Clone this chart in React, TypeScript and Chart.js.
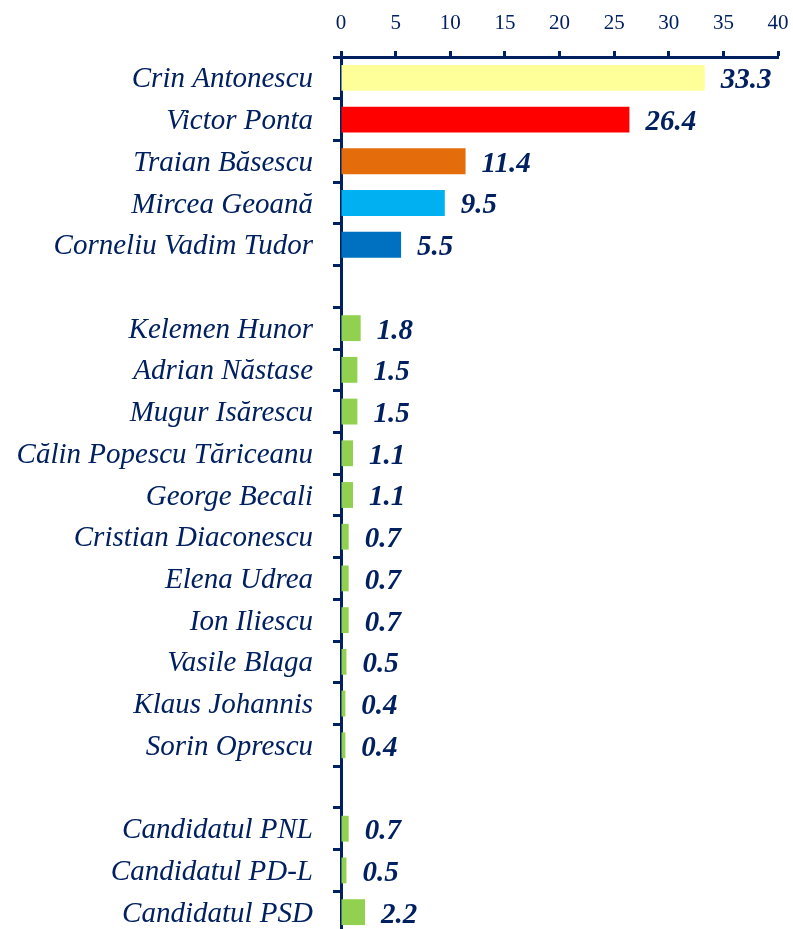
import React, { useEffect, useRef } from "react";
import { Chart, registerables } from "chart.js";

Chart.register(...registerables);

const candidates: string[] = [
  "Crin Antonescu",
  "Victor Ponta",
  "Traian Băsescu",
  "Mircea Geoană",
  "Corneliu Vadim Tudor",
  "",
  "Kelemen Hunor",
  "Adrian Năstase",
  "Mugur Isărescu",
  "Călin Popescu Tăriceanu",
  "George Becali",
  "Cristian Diaconescu",
  "Elena Udrea",
  "Ion Iliescu",
  "Vasile Blaga",
  "Klaus Johannis",
  "Sorin Oprescu",
  " ",
  "Candidatul PNL",
  "Candidatul PD-L",
  "Candidatul PSD",
];

const values: (number | null)[] = [
  33.3, 26.4, 11.4, 9.5, 5.5,
  null,
  1.8, 1.5, 1.5, 1.1, 1.1, 0.7, 0.7, 0.7, 0.5, 0.4, 0.4,
  null,
  0.7, 0.5, 2.2,
];

const barColors: string[] = [
  "#FFFF99", "#FF0000", "#E46C0A", "#00B0F0", "#0070C0",
  "#92D050",
  "#92D050", "#92D050", "#92D050", "#92D050", "#92D050", "#92D050",
  "#92D050", "#92D050", "#92D050", "#92D050", "#92D050",
  "#92D050",
  "#92D050", "#92D050", "#92D050",
];

const xTicks: number[] = [0, 5, 10, 15, 20, 25, 30, 35, 40];

const NAVY = "#002060";
const FONT = "'Liberation Serif', 'DejaVu Serif', serif";

const valueLabels = {
  id: "valueLabels",
  afterDatasetsDraw(chart: any) {
    const ctx = chart.ctx;
    const meta = chart.getDatasetMeta(0);
    ctx.save();
    ctx.fillStyle = NAVY;
    ctx.font = `italic bold 29px ${FONT}`;
    ctx.textAlign = "left";
    ctx.textBaseline = "middle";
    meta.data.forEach((bar: any, i: number) => {
      const v = values[i];
      if (v === null || v === undefined) return;
      ctx.fillText(v.toFixed(1), bar.x + 16, bar.y + 3);
    });
    ctx.restore();
  },
};

export default function App() {
  const ref = useRef<HTMLCanvasElement | null>(null);

  useEffect(() => {
    if (!ref.current) return;
    const chart = new Chart(ref.current, {
      type: "bar",
      data: {
        labels: candidates,
        datasets: [
          {
            data: values as any,
            backgroundColor: barColors,
            borderWidth: 0,
            barPercentage: 0.62,
            categoryPercentage: 1,
          },
        ],
      },
      options: {
        indexAxis: "y",
        responsive: false,
        animation: false,
        layout: { padding: { top: 0, right: 15, bottom: 0, left: 0 } },
        plugins: {
          legend: { display: false },
          tooltip: { enabled: false },
        },
        scales: {
          x: {
            position: "top",
            min: 0,
            max: 40,
            afterBuildTicks: (scale: any) => {
              scale.ticks = xTicks.map((v) => ({ value: v }));
            },
            afterFit: (scale: any) => {
              scale.height = 57;
              scale.paddingLeft = 0;
              scale.paddingRight = 0;
            },
            ticks: {
              color: NAVY,
              font: { family: FONT, size: 21 },
              padding: 15,
            },
            grid: {
              drawOnChartArea: false,
              drawTicks: true,
              tickLength: 6,
              tickWidth: 3,
              color: NAVY,
            },
            border: { display: true, color: NAVY, width: 3 },
          },
          y: {
            afterFit: (scale: any) => {
              scale.width = 341;
              scale.paddingTop = 0;
              scale.paddingBottom = 0;
            },
            ticks: {
              color: NAVY,
              font: { family: FONT, size: 29, style: "italic" },
              padding: 20,
              labelOffset: 2,
              autoSkip: false,
            },
            grid: {
              drawOnChartArea: false,
              drawTicks: true,
              tickLength: 8,
              tickWidth: 3,
              color: NAVY,
            },
            border: { display: true, color: NAVY, width: 3 },
          },
        },
      },
      plugins: [valueLabels],
    });
    return () => chart.destroy();
  }, []);

  return (
    <div
      style={{
        position: "absolute",
        left: 0,
        top: 0,
        width: 793,
        height: 929,
        overflow: "hidden",
        background: "#ffffff",
      }}
    >
      <canvas ref={ref} width={793} height={933} style={{ display: "block" }} />
    </div>
  );
}
